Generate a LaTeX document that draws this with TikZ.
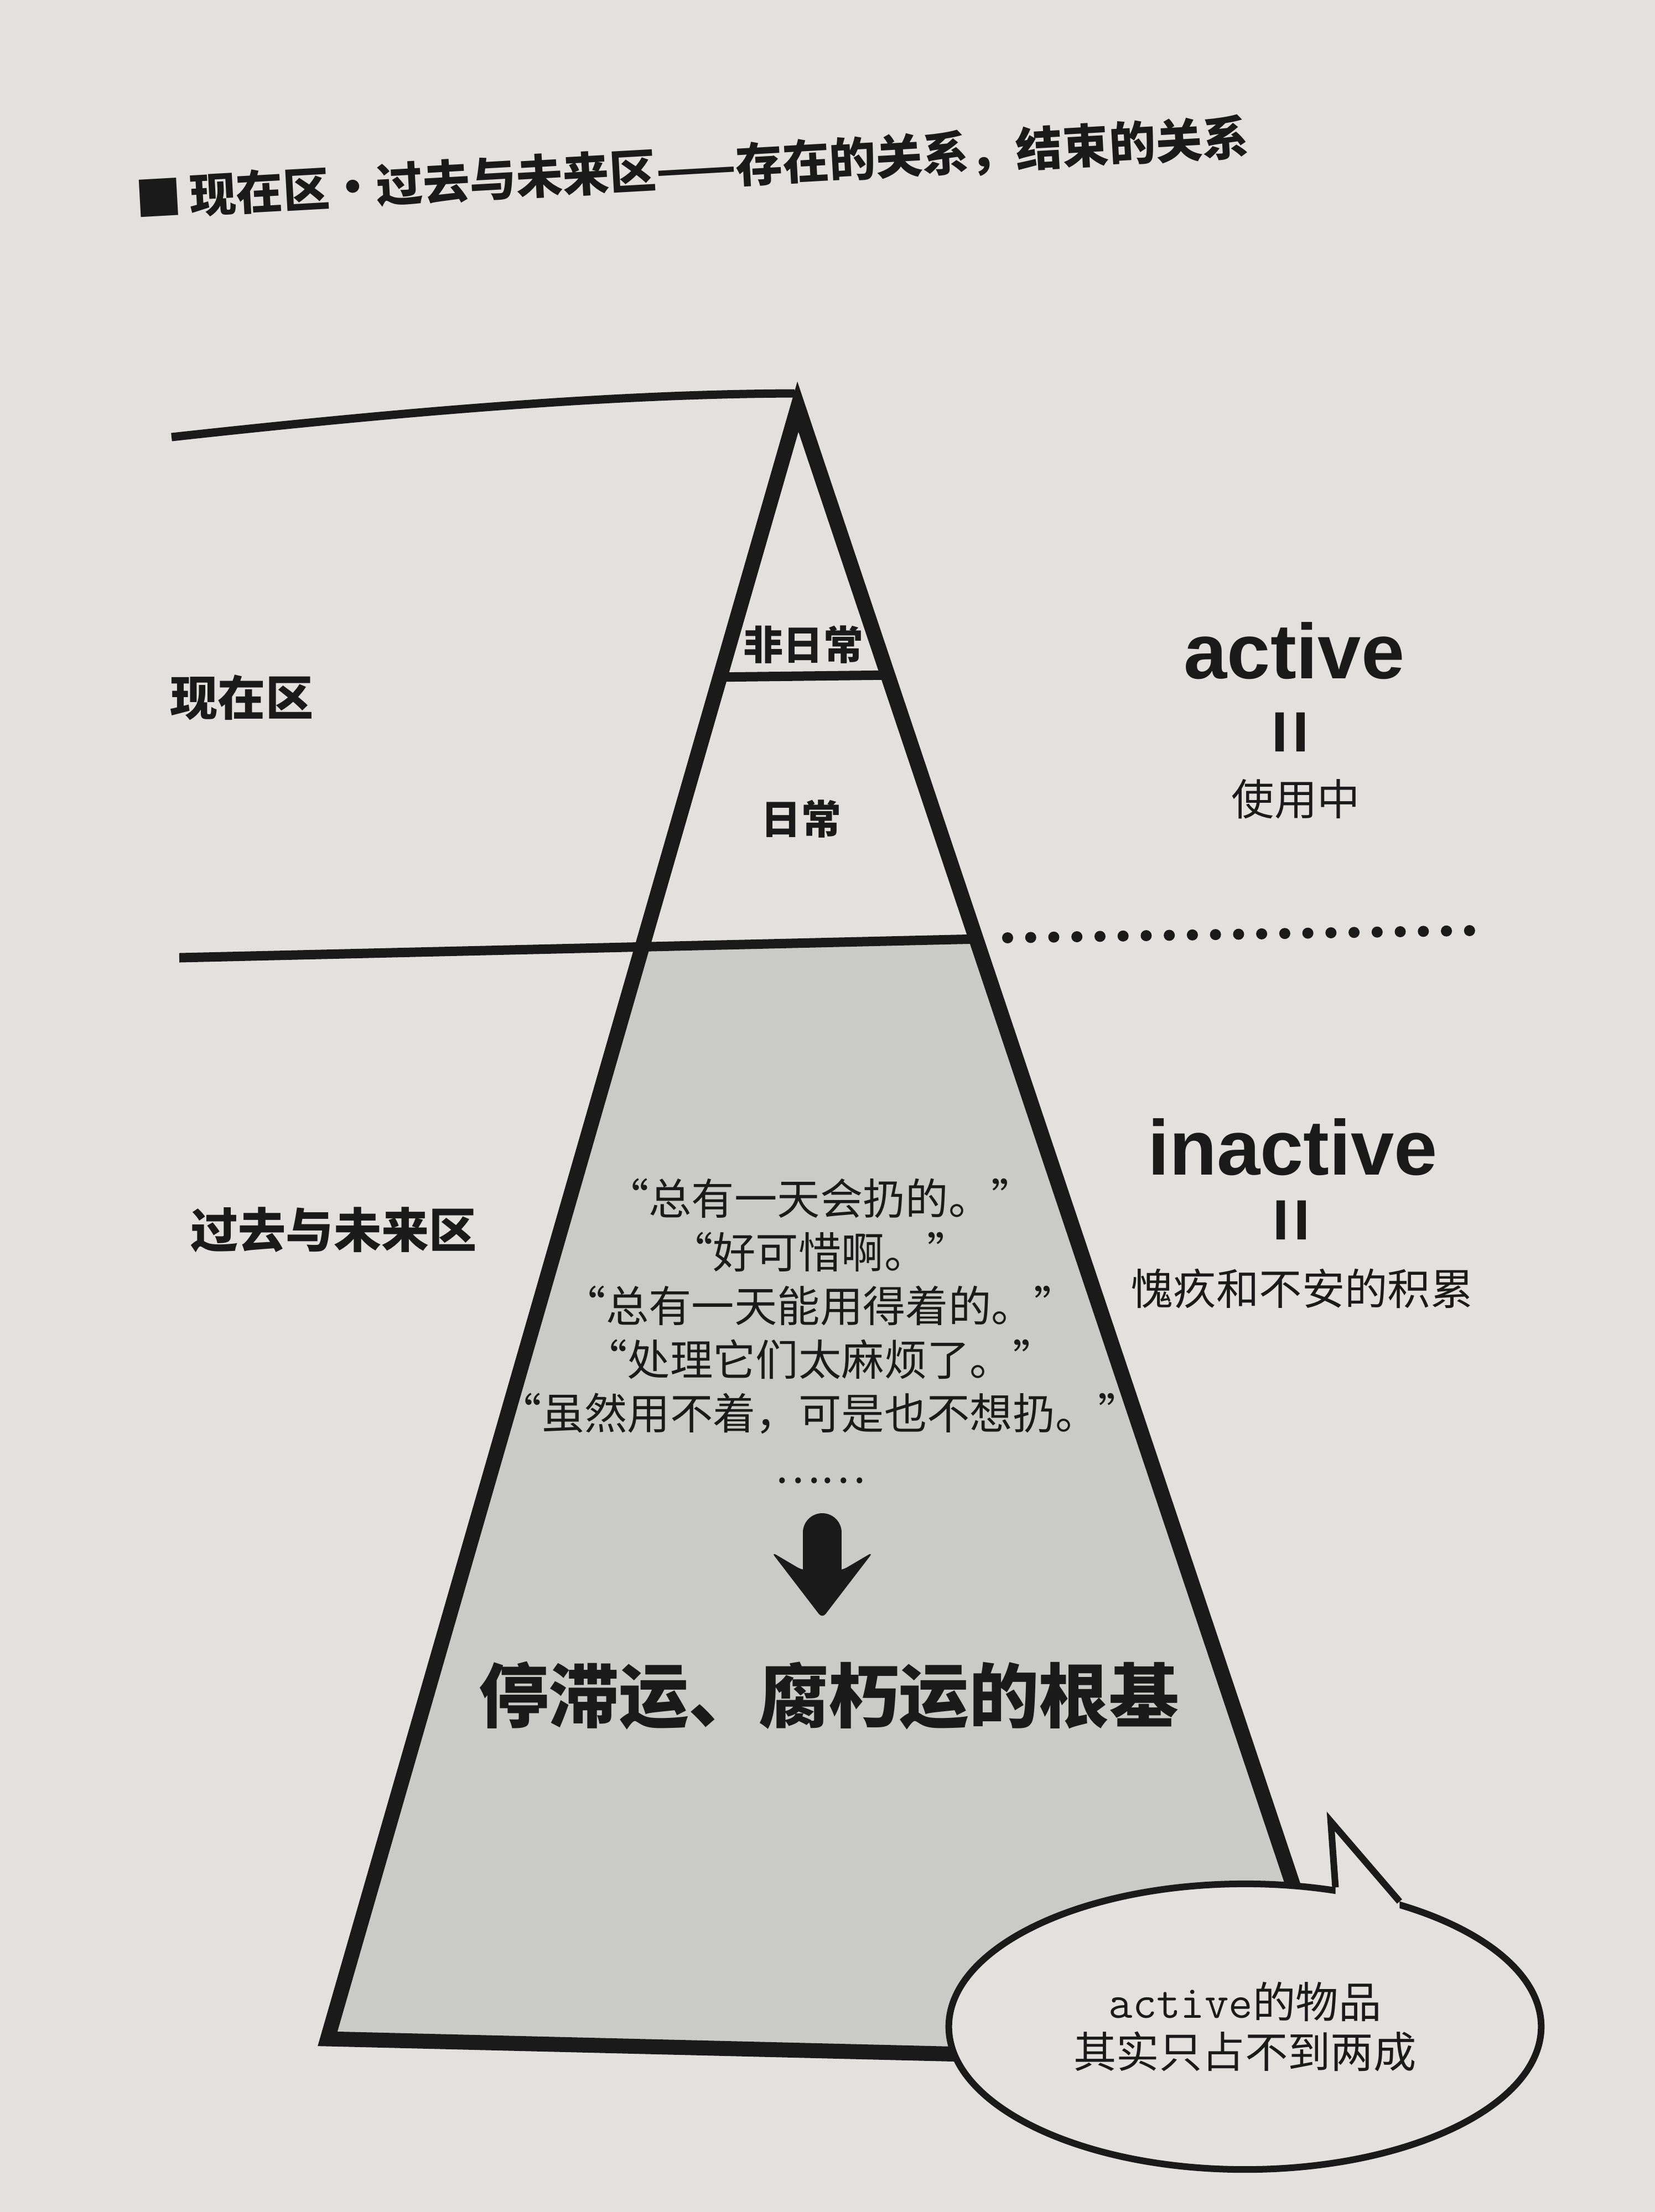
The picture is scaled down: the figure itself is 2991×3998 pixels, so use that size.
\documentclass[tikz,border=0pt]{standalone}
\usepackage{fontspec}
\setmainfont{Liberation Sans}
\newfontfamily\cjk{Noto Sans CJK SC}
\usetikzlibrary{shapes.geometric, positioning, calc}
\definecolor{paper}{RGB}{226,225,221}
\definecolor{lowgray}{RGB}{202,202,200}
\definecolor{ink}{RGB}{26,26,26}

\begin{document}
\begin{tikzpicture}[x=0.01cm, y=-0.01cm, color=ink,
    edge/.style={line width=0.27cm, line join=miter},
    rimline/.style={line width=0.15cm},
    divider/.style={line width=0.17cm},
    dotrow/.style={line width=0.2cm, line cap=round, dash pattern=on 0pt off 0.4172cm},
    title/.style={font=\cjk\bfseries\fontsize{24}{28}\selectfont},
    zone/.style={font=\cjk\bfseries\fontsize{24.5}{28}\selectfont},
    level/.style={font=\cjk\bfseries\fontsize{20.5}{24}\selectfont},
    status/.style={font=\bfseries\fontsize{40}{44}\selectfont, anchor=base},
    equal/.style={font=\bfseries\fontsize{40}{44}\selectfont, rotate=90},
    note/.style={font=\cjk\fontsize{22}{26}\selectfont},
    saying/.style={font=\cjk\fontsize{22}{27.6}\selectfont, align=center},
    big/.style={font=\cjk\bfseries\fontsize{36}{40}\selectfont},
    bubble/.style={ellipse, draw=ink, fill=paper, line width=0.12cm, minimum width=10.7cm,
        minimum height=5.16cm, inner sep=0pt, align=center, font=\cjk\fontsize{22}{25.6}\selectfont}]
    % page
    \fill[paper] (0,0) rectangle (2991,3998);

    \node[title, rotate=3.2] (title) at (1251,305) {■\,现在区・过去与未来区——存在的关系，结束的关系};

    % pyramid
    \coordinate (apex) at (1442,735);
    \coordinate (bl) at (592,3685);
    \coordinate (br) at (2445,3730);
    \coordinate (rim) at (310,790);
    \coordinate (midL) at (324,1731);
    \coordinate (midX) at (2000,1691.6);
    \coordinate (midR) at (intersection of apex--br and midL--midX);
    \begin{scope}
        \clip (apex) -- (bl) -- (br) -- cycle;
        \fill[lowgray] (midL) -- (midX) -- (2600,3998) -- (300,3998) -- cycle;
        \draw[divider] (1200,1225) -- (1700,1219);
    \end{scope}
    \draw[divider] (midL) -- (midR);
    \draw[rimline] (rim) .. controls (800,736) and (1150,712) .. (1436,711);
    \draw[edge] (apex) -- (bl) -- (br) -- cycle;

    \coordinate (dotL) at (1821,1695);
    \coordinate (dotR) at (2656,1682);
    \draw[dotrow] (dotL) -- (dotR);

    % labels
    \node[zone] (now) at (437,1261) {现在区};
    \node[zone] (pastfuture) at (603,2223) {过去与未来区};
    \node[level] (special) at (1452,1165) {非日常};
    \node[level] (daily) at (1448,1480) {日常};

    \node[status] (active) at (2339,1226) {active};
    \node[equal] (eqA) at (2342,1323) {=};
    \node[note] (inuse) at (2342,1444) {使用中};
    \node[status] (inactive) at (2336,2123) {inactive};
    \node[equal] (eqB) at (2344,2205) {=};
    \node[note] (burden) at (2353,2329) {愧疚和不安的积累};

    \node[saying] (sayings) at (1482,2406) {“总有一天会扔的。”\\“好可惜啊。”\\“总有一天能用得着的。”\\“处理它们太麻烦了。”\\“虽然用不着，可是也不想扔。”\\……};

    % down arrow
    \coordinate (arrowtop) at (1486,2770);
    \coordinate (arrowneck) at (1486,2845);
    \draw[line width=0.7cm, line cap=round] (arrowtop) -- (arrowneck);
    \fill[rounded corners=0.1cm] (1394,2805) -- (1450,2838) -- (1522,2838) -- (1578,2805) -- (1486,2925) -- cycle;

    \node[big] (root) at (1498,3065) {停滞运、腐朽运的根基};

    % speech bubble
    \node[bubble] (bubble) at (2250,3663) {{\ttfamily\fontsize{24}{25.6}\selectfont active}的物品\\其实只占不到两成};
    \coordinate (tip) at (2405,3292);
    \fill[paper] ($(bubble.57)+(0,30)$) -- (bubble.57) -- (tip) -- (bubble.39) -- ($(bubble.39)+(0,30)$) -- cycle;
    \draw[line width=0.12cm] (bubble.57) -- (tip) -- (bubble.39);
\end{tikzpicture}
\end{document}
